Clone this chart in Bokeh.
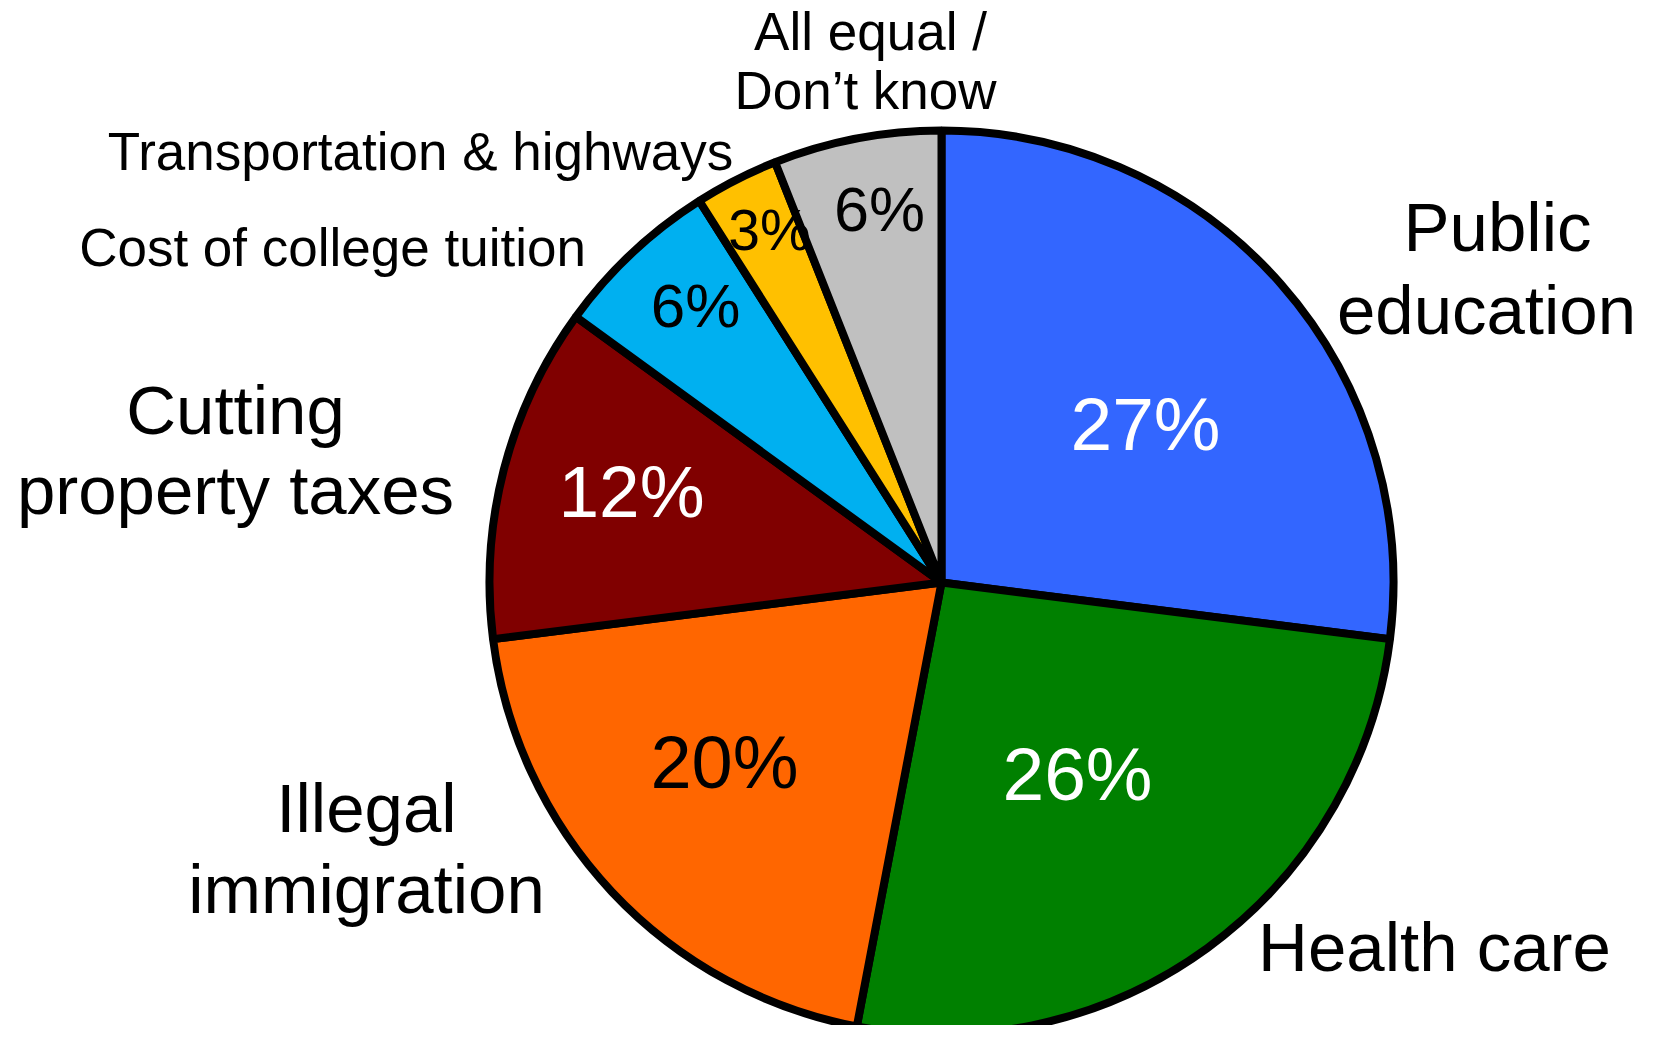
import math
from bokeh.plotting import figure
from bokeh.models import ColumnDataSource, Range1d
from bokeh.core.properties import value
from bokeh.embed import file_html
from bokeh.resources import INLINE

# ---- data ----
categories = ["Public education", "Health care", "Illegal immigration",
              "Cutting property taxes", "Cost of college tuition",
              "Transportation & highways", "All equal / Don't know"]
shares = [27, 26, 20, 12, 6, 3, 6]
colors = ["#3366FF", "#008000", "#FF6600", "#800000", "#00B0F0", "#FFC000", "#C0C0C0"]
pct_colors = ["white", "white", "black", "white", "black", "black", "black"]

# ---- layout (reference pixel coords; y measured down from top) ----
W, H = 1655, 1041
PW, PH = W - 16, H - 16
CX, CY, R = 941, 582, 452
K = 0.38  # baseline correction (fraction of font size)

def Y(py):
    return H - py

total = float(sum(shares))
starts, ends = [], []
cum = 0.0
for s in shares:
    starts.append(math.pi / 2 - 2 * math.pi * cum / total)
    cum += s
    ends.append(math.pi / 2 - 2 * math.pi * cum / total)

src = ColumnDataSource(dict(cat=categories, val=shares, color=colors,
                            start=starts, end=ends))

p = figure(width=PW, height=PH, output_backend="svg", toolbar_location=None,
           x_range=Range1d(0, PW), y_range=Range1d(H - PH, H),
           x_axis_location=None, y_axis_location=None, min_border=0)
p.grid.visible = False
p.outline_line_color = None
p.background_fill_color = "white"
p.border_fill_color = "white"

p.wedge(x=CX, y=Y(CY), radius=R, start_angle="start", end_angle="end",
        direction="clock", fill_color="color", line_color="black",
        line_width=8, source=src)

FONT = value("Liberation Sans")

def label(x, y, t, fs, color="black"):
    p.text(x=[x], y=[Y(y - K * fs)], text=[t], text_font=FONT,
           text_font_size=f"{fs}px", text_color=color, text_align="center",
           text_baseline="alphabetic")

# percentage labels
pct_pos = [(1145, 452, 75), (1077, 802, 75), (724, 790, 74), (631, 519, 73),
           (695, 329, 62), (769, 251, 57), (879, 232, 63)]
for v, c, (x, y, fs) in zip(shares, pct_colors, pct_pos):
    label(x, y, f"{v}%", fs, c)

# category labels (split into lines as in the chart)
label_lines = [
    ["Public", "education"],
    ["Health care"],
    ["Illegal", "immigration"],
    ["Cutting", "property taxes"],
    ["Cost of college tuition"],
    ["Transportation & highways"],
    ["All equal /", "Don\u2019t know"],
]
label_pos = [
    [(1497, 253), (1486, 336)],
    [(1434, 973)],
    [(366, 834), (366, 915)],
    [(235, 436), (235, 516)],
    [(332, 267)],
    [(420, 171)],
    [(870, 51), (865, 110)],
]
label_size = [69, 69, 69, 69, 53, 53, 53]
for lines, poss, fs in zip(label_lines, label_pos, label_size):
    for t, (x, y) in zip(lines, poss):
        label(x, y, t, fs)

open("out.html", "w").write(file_html(p, INLINE))
